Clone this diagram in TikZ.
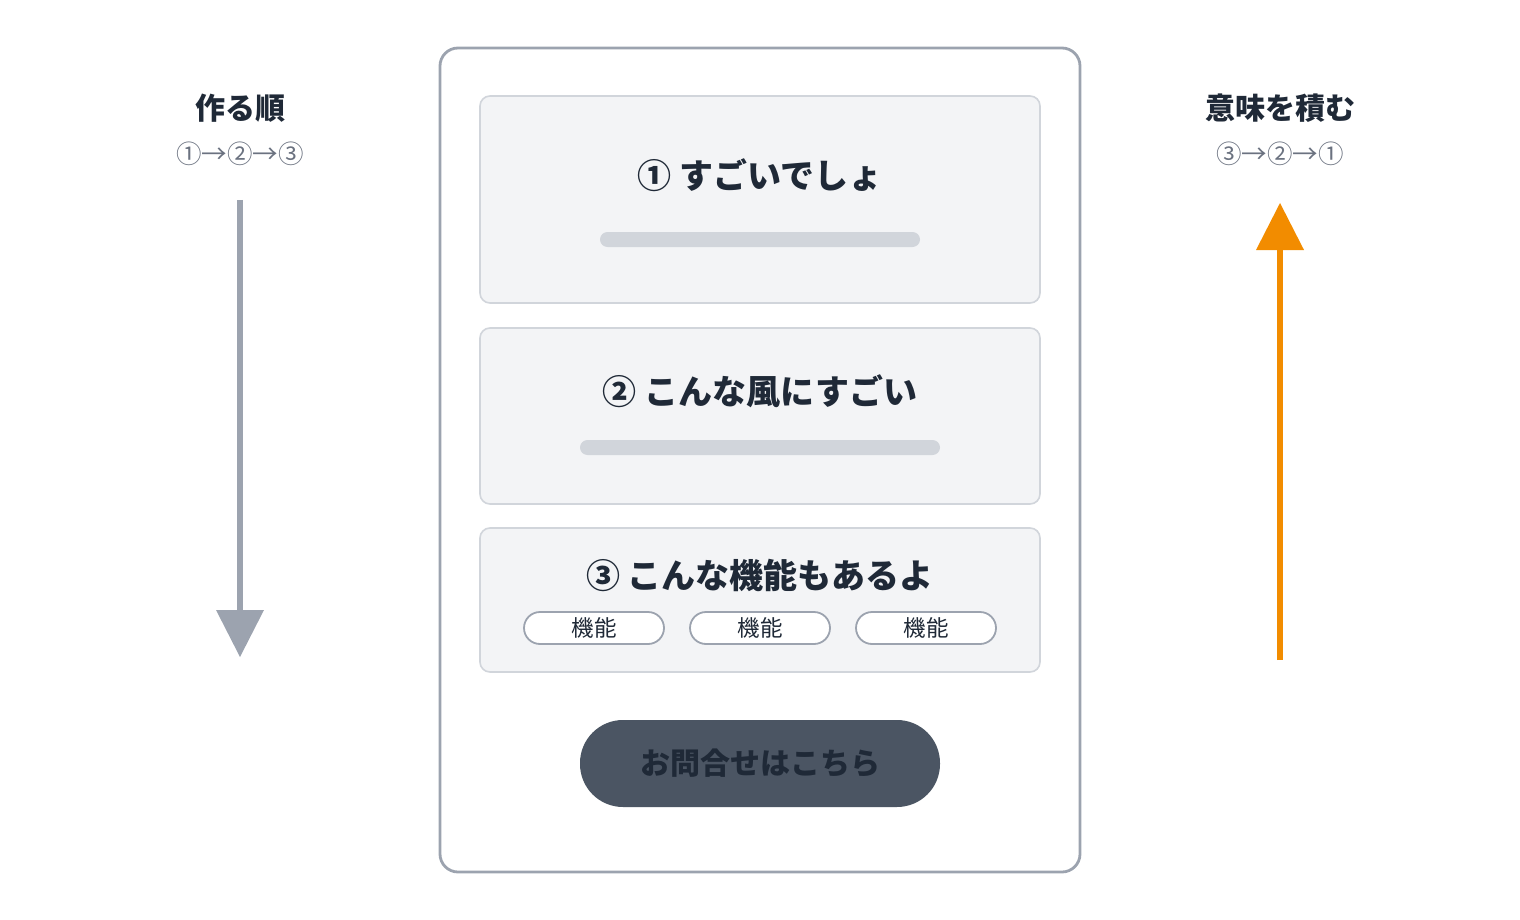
\documentclass[tikz,border=0pt]{standalone}
\usepackage{fontspec}
\setmainfont{Noto Sans CJK JP}
\definecolor{frame}{HTML}{9CA3AF}
\definecolor{cardfill}{HTML}{F3F4F6}
\definecolor{cardline}{HTML}{D1D5DB}
\definecolor{ink}{HTML}{1F2937}
\definecolor{sub}{HTML}{6B7280}
\definecolor{btn}{HTML}{4B5563}
\definecolor{orangeA}{HTML}{F28C00}
\tikzset{
  card/.style={draw=cardline, line width=1.6pt, fill=cardfill, rounded corners=10pt},
  bar/.style={fill=cardline, rounded corners=7.5pt},
  chip/.style={draw=frame, line width=1.8pt, fill=white, rounded corners=16pt, minimum width=140pt, minimum height=32pt, inner sep=0pt, font=\fontsize{22.5}{26}\selectfont, text=ink},
  ctitle/.style={font=\bfseries\fontsize{34}{40}\selectfont, text=ink, inner sep=0pt},
  sidetitle/.style={font=\bfseries\fontsize{30}{34}\selectfont, text=ink, inner sep=0pt},
  sideorder/.style={font=\fontsize{25.5}{30}\selectfont, text=sub, inner sep=0pt},
}
\begin{document}
\begin{tikzpicture}[x=1pt,y=-1pt]
\useasboundingbox (0,0) rectangle (1520,920);
% outer frame
\draw[frame, line width=2.8pt, rounded corners=18pt, fill=white] (440,48) rectangle (1080,872);
% card 1
\draw[card] (480,96) rectangle (1040,303);
\node[ctitle] (t1) at (760,175) {① すごいでしょ};
\fill[bar] (600,232) rectangle (920,247);
% card 2
\draw[card] (480,328) rectangle (1040,504);
\node[ctitle] (t2) at (760,391) {② こんな風にすごい};
\fill[bar] (580,440) rectangle (940,455);
% card 3
\draw[card] (480,528) rectangle (1040,672);
\node[ctitle] (t3) at (760,575) {③ こんな機能もあるよ};
\node[chip] (c1) at (594,628) {機能};
\node[chip] (c2) at (760,628) {機能};
\node[chip] (c3) at (926,628) {機能};
% button
\node[fill=btn, rounded corners=43pt, minimum width=360pt, minimum height=87pt, inner sep=0pt,
  font=\bfseries\fontsize{30}{36}\selectfont, text=ink] (btn) at (760,763.5) {お問合せはこちら};
% left
\node[sidetitle] (lt) at (240,108) {作る順};
\node[sideorder] (lo) at (240,154) {①→②→③};
\coordinate (la) at (240,200);
\coordinate (lb) at (240,612);
\draw[frame, line width=6pt] (la) -- (lb);
\fill[frame] (216,610) -- (264,610) -- (240,657) -- cycle;
% right
\node[sidetitle] (rt) at (1280,108) {意味を積む};
\node[sideorder] (ro) at (1280,154) {③→②→①};
\coordinate (ra) at (1280,660);
\coordinate (rb) at (1280,248);
\draw[orangeA, line width=6pt] (ra) -- (rb);
\fill[orangeA] (1256,250) -- (1304,250) -- (1280,203) -- cycle;
\end{tikzpicture}
\end{document}
